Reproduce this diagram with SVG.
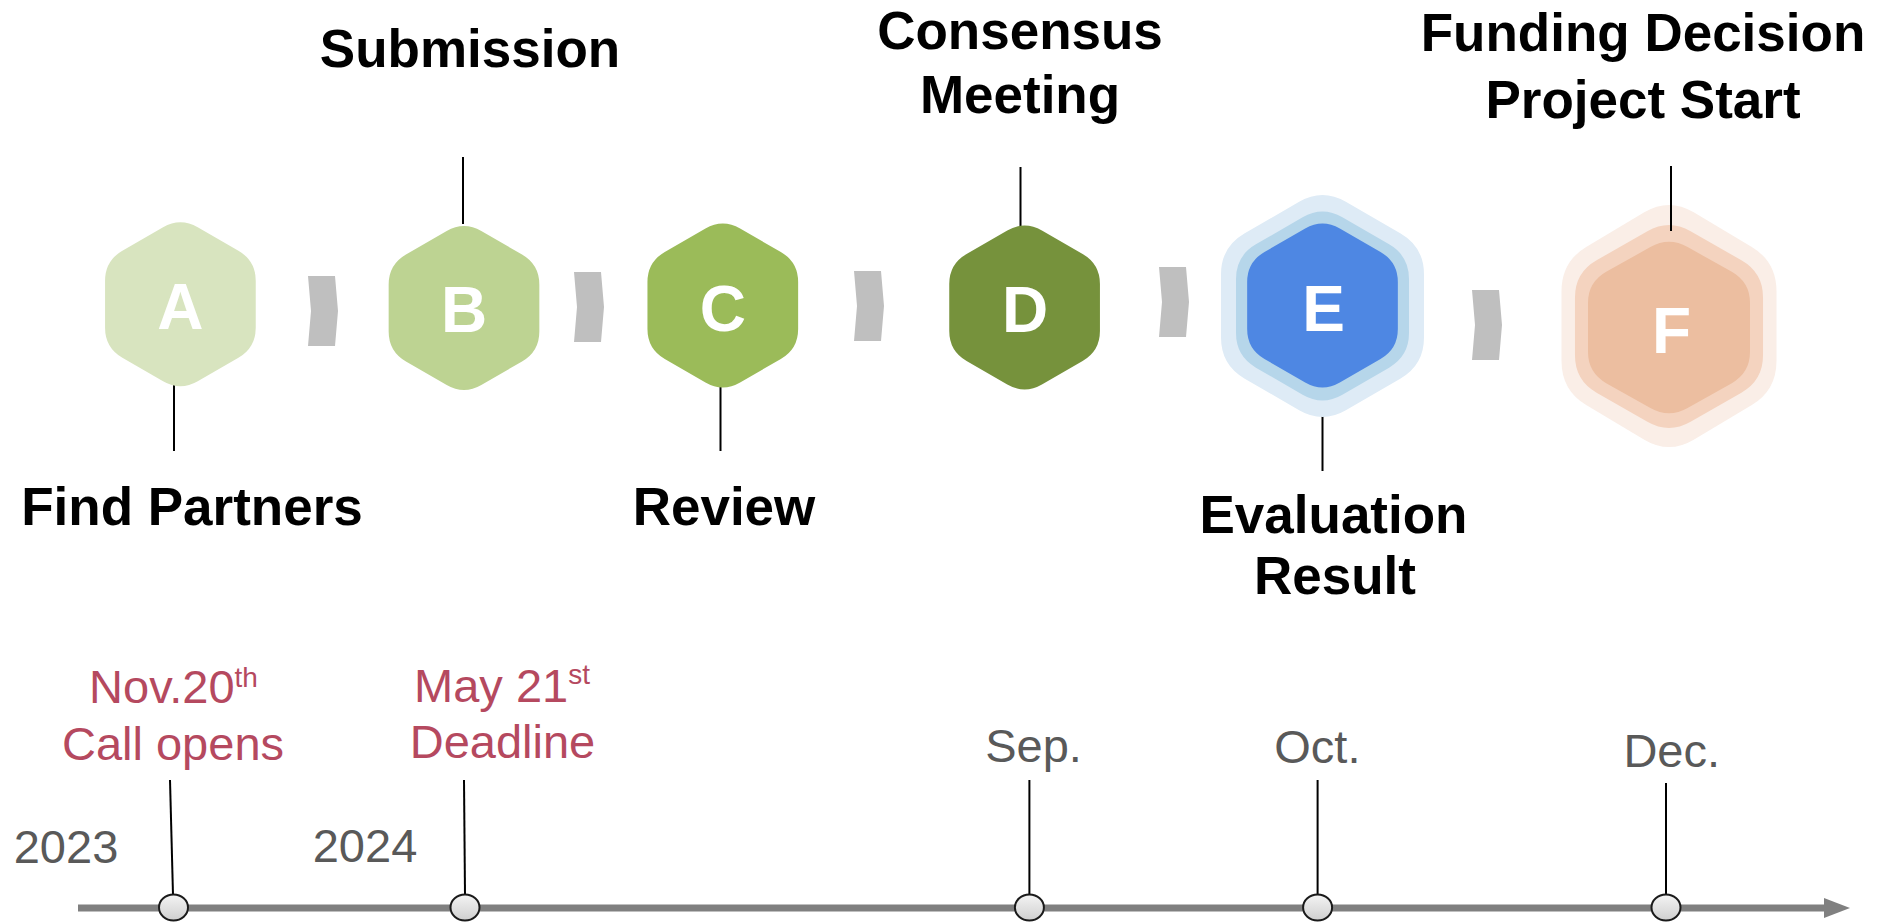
<svg xmlns="http://www.w3.org/2000/svg" width="1882" height="923" viewBox="0 0 1882 923">
<style>
.lbl{font-family:"Liberation Sans",Arial,sans-serif;font-weight:bold;font-size:53px;fill:#000;text-anchor:middle}
.let{font-family:"Liberation Sans",Arial,sans-serif;font-weight:bold;font-size:64px;fill:#fff;text-anchor:middle}
.red{font-family:"Liberation Sans",Arial,sans-serif;font-size:47px;fill:#B5495F;text-anchor:middle}
.gry{font-family:"Liberation Sans",Arial,sans-serif;font-size:47px;fill:#595959;text-anchor:middle}
.sup{font-size:28px}
.ln{stroke:#000;stroke-width:2;fill:none}
.chev{fill:#BFBFBF}
.dot{fill:url(#dotg);stroke:#1a1a1a;stroke-width:2}
</style>
<defs>
<path id="hex" d="M -17.32,-77 Q 0,-87 17.32,-77 L 58.02,-53.5 Q 75.34,-43.5 75.34,-23.5 L 75.34,23.5 Q 75.34,43.5 58.02,53.5 L 17.32,77 Q 0,87 -17.32,77 L -58.02,53.5 Q -75.34,43.5 -75.34,23.5 L -75.34,-23.5 Q -75.34,-43.5 -58.02,-53.5 Z"/>
<path id="chev" d="M0,0 L27,0 L30,35 L27,70 L0,70 L3,35 Z"/>
<linearGradient id="dotg" x1="0" y1="0" x2="0" y2="1">
<stop offset="0" stop-color="#f4f4f4"/>
<stop offset="1" stop-color="#cfcfcf"/>
</linearGradient>
</defs>
<rect width="1882" height="923" fill="#fff"/>

<g id="connectors">
<line class="ln" x1="174" y1="385" x2="174" y2="451"/>
<line class="ln" x1="463" y1="157" x2="463" y2="224"/>
<line class="ln" x1="720.5" y1="385" x2="720.5" y2="451"/>
<line class="ln" x1="1020.5" y1="167" x2="1020.5" y2="233"/>
<line class="ln" x1="1322.5" y1="405" x2="1322.5" y2="471"/>
<use href="#chev" class="chev" x="308" y="276"/>
<use href="#chev" class="chev" x="574" y="272"/>
<use href="#chev" class="chev" x="854" y="271"/>
<use href="#chev" class="chev" x="1159" y="267"/>
<use href="#chev" class="chev" x="1472" y="290"/>
</g>

<g id="nodeA">
<use href="#hex" fill="#D8E4BF" transform="translate(180.4,304.3)"/>
<text class="let" x="180.4" y="328.5">A</text>
<text class="lbl" x="192" y="525">Find Partners</text>
</g>
<g id="nodeB">
<use href="#hex" fill="#BDD392" transform="translate(464,308)"/>
<text class="let" x="464" y="332">B</text>
<text class="lbl" x="470" y="67">Submission</text>
</g>
<g id="nodeC">
<use href="#hex" fill="#9BBB59" transform="translate(722.8,305.5)"/>
<text class="let" x="722.8" y="331">C</text>
<text class="lbl" x="724" y="525">Review</text>
</g>
<g id="nodeD">
<use href="#hex" fill="#76923C" transform="translate(1024.6,307.5)"/>
<text class="let" x="1025" y="332">D</text>
<text class="lbl" x="1020" y="49">Consensus</text>
<text class="lbl" x="1020" y="113">Meeting</text>
</g>
<g id="nodeE">
<use href="#hex" fill="#DEEBF6" transform="translate(1322.5,306) scale(1.347,1.354)"/>
<use href="#hex" fill="#B6D6EA" transform="translate(1322.5,306) scale(1.148,1.152)"/>
<use href="#hex" fill="#4E87E3" transform="translate(1322.5,305.5)"/>
<text class="let" x="1323.5" y="331">E</text>
<text class="lbl" x="1333.5" y="533">Evaluation</text>
<text class="lbl" x="1335" y="594">Result</text>
</g>
<g id="nodeF">
<use href="#hex" fill="#FAEEE7" transform="translate(1669,326) scale(1.427,1.476)"/>
<use href="#hex" fill="#F4D3BF" transform="translate(1669,326.5) scale(1.248,1.238)"/>
<use href="#hex" fill="#ECBEA0" transform="translate(1669,327.5) scale(1.075,1.045)"/>
<line class="ln" x1="1671" y1="166" x2="1671" y2="231"/>
<text class="let" x="1671.5" y="353">F</text>
<text class="lbl" x="1643" y="51">Funding Decision</text>
<text class="lbl" x="1643" y="118">Project Start</text>
</g>

<g id="timeline">
<line x1="78" y1="908" x2="1826" y2="908" stroke="#808080" stroke-width="7"/>
<polygon points="1824,898 1850,908 1824,918" fill="#808080"/>
<line class="ln" x1="170" y1="780" x2="173" y2="895"/>
<line class="ln" x1="464" y1="780" x2="465" y2="895"/>
<line class="ln" x1="1029.4" y1="780" x2="1029.4" y2="895"/>
<line class="ln" x1="1317.6" y1="780" x2="1317.6" y2="895"/>
<line class="ln" x1="1666" y1="783" x2="1666" y2="895"/>
<ellipse class="dot" cx="173.5" cy="907.5" rx="14.5" ry="13"/>
<ellipse class="dot" cx="465" cy="907.5" rx="14.5" ry="13"/>
<ellipse class="dot" cx="1029.4" cy="907.5" rx="14.5" ry="13"/>
<ellipse class="dot" cx="1317.6" cy="907.5" rx="14.5" ry="13"/>
<ellipse class="dot" cx="1666" cy="907.5" rx="14.5" ry="13"/>
<text class="red" x="173.5" y="703">Nov.20<tspan class="sup" dy="-16">th</tspan></text>
<text class="red" x="173" y="760">Call opens</text>
<text class="red" x="502" y="701.5">May 21<tspan class="sup" dy="-18">st</tspan></text>
<text class="red" x="502.5" y="758">Deadline</text>
<text class="gry" x="66" y="863">2023</text>
<text class="gry" x="365" y="862">2024</text>
<text class="gry" x="1033.5" y="762">Sep.</text>
<text class="gry" x="1317.4" y="763">Oct.</text>
<text class="gry" x="1671.7" y="767">Dec.</text>
</g>
</svg>
